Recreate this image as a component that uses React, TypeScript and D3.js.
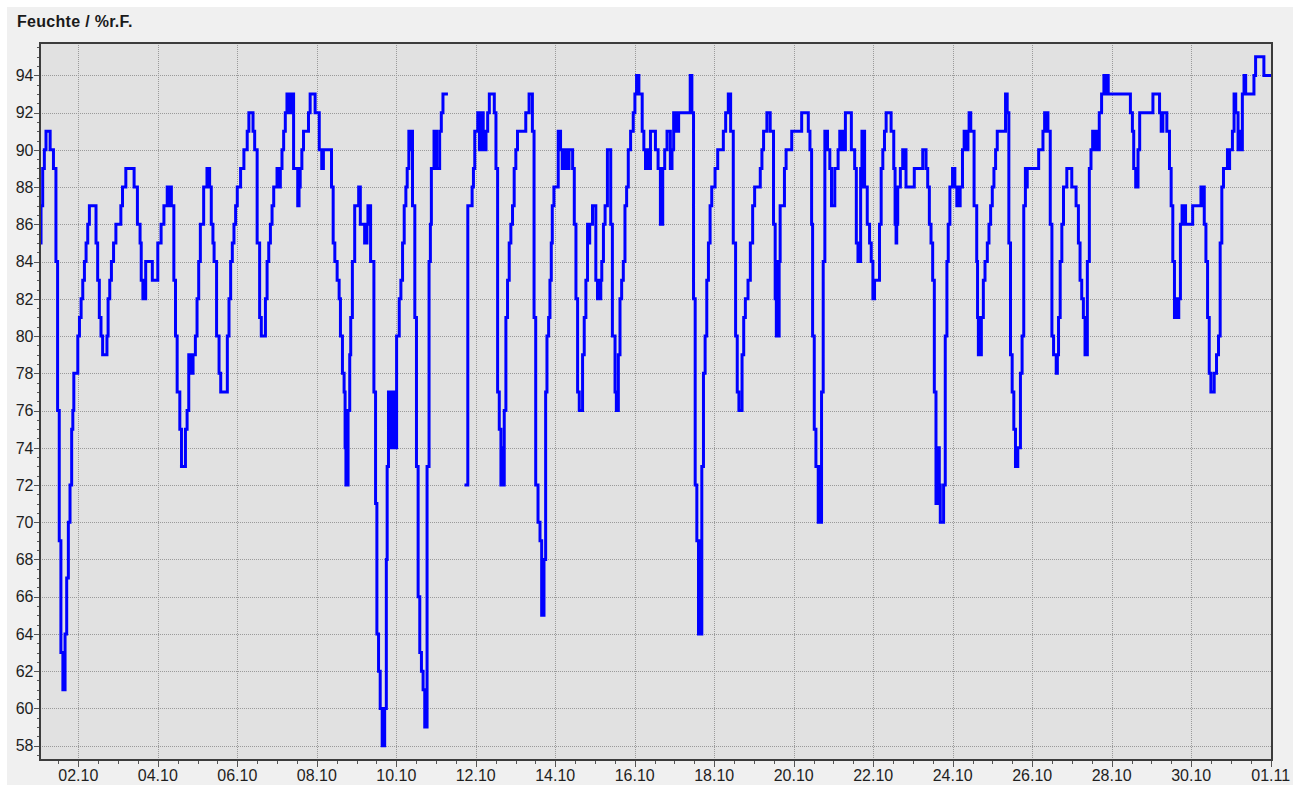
import React from "react";
import * as d3 from "d3";

// ---- data -------------------------------------------------------------
const chartTitle = "Feuchte / %r.F.";
const startUtc = Date.UTC(2012, 9, 1, 0, 0); // 01.10 00:00
const domainStartHour = 0.876;
const domainEndHour = 744.8;
const yDomain: [number, number] = [57.23, 95.74];
const yMajorTicks = d3.range(58, 95, 2);
const xTickDays = [1, 3, 5, 7, 9, 11, 13, 15, 17, 19, 21, 23, 25, 27, 29, 31]; // days after 01.10

// [hours since 01.10 00:00, relative humidity %] ; null = no data
const rhReadings: [number, number | null][] = [
  [0.9, 85], [1.5, 87], [2.5, 89], [3.5, 90], [4.5, 91], [7, 90], [9, 89], [10.5, 84], [11.5, 76], [12.5, 69],
  [13.5, 63], [14.7, 61], [16, 64], [17, 67], [18, 70], [19, 72], [20, 75], [20.7, 76], [21.3, 78], [23.7, 80],
  [24.7, 81], [25.7, 82], [26.7, 83], [27.7, 84], [28.7, 85], [29.7, 86], [30.7, 87], [34.7, 85], [35.7, 83],
  [36.7, 81], [37.7, 80], [38.7, 79], [41.3, 80], [42, 82], [43, 83], [44, 84], [45.3, 85], [46.7, 86], [49.7, 87],
  [50.7, 88], [52.7, 89], [57.7, 88], [59.7, 86], [61.3, 85], [62, 83], [63, 82], [63.5, 83], [64, 82], [64.7, 84],
  [68.7, 83], [72, 85], [74, 86], [75.7, 87], [77.7, 88], [79.2, 87], [79.6, 88], [80.2, 87], [81.7, 83], [82.7, 80],
  [83.7, 77], [85.3, 75], [86.3, 73], [88.7, 75], [89.7, 76], [90.7, 79], [91.5, 78], [92, 79], [92.8, 78], [93.3, 79],
  [94.7, 80], [95.7, 82], [96.7, 84], [97.7, 86], [99.7, 88], [101.7, 89], [103.3, 88], [104.3, 86], [105.3, 85],
  [106, 84], [107.5, 80], [109, 78], [110, 77], [114, 80], [115, 82], [116, 84], [117, 85], [118, 86], [119, 87],
  [120, 88], [122, 89], [124, 90], [126, 91], [127, 92], [129.5, 91], [130.5, 90], [132, 85], [133.5, 81], [134.5, 80],
  [137, 82], [138, 84], [139, 85], [140, 86], [141, 87], [142, 88], [144, 89], [144.5, 88], [145, 89], [145.5, 88],
  [146, 89], [147, 90], [148, 91], [149, 92], [150, 93], [151, 92], [151.5, 93], [152.5, 92], [153, 93], [154, 89],
  [156.5, 87], [157.3, 88], [158, 89], [159, 90], [160, 91], [163, 92], [164, 93], [167, 92], [169.5, 90], [171, 89],
  [172, 90], [176.9, 88], [177.9, 85], [178.9, 84], [180.3, 83], [181.5, 82], [182.3, 80], [183.5, 78], [184.5, 77],
  [185.1, 74], [185.6, 72], [186, 74], [186.4, 72], [186.9, 76], [187.9, 79], [188.5, 81], [189.5, 84], [190.9, 87],
  [193.3, 88], [194.3, 86], [196.9, 85], [198.3, 86], [198.9, 87], [200.5, 84], [202.5, 77], [203.5, 71], [204.3, 64],
  [205.3, 62], [206.3, 60], [207.5, 58], [209, 60], [210, 68], [210.5, 73], [211.3, 77], [212.5, 74], [213.2, 77],
  [214, 74], [215, 77], [215.5, 74], [216.2, 80], [217.8, 82], [218.8, 83], [219.8, 85], [220.8, 87], [221.8, 88],
  [222.6, 89], [223.6, 91], [224.4, 90], [224.8, 91], [225.8, 87], [227.2, 81], [228.2, 73], [229.2, 66], [230.2, 63],
  [231.2, 62], [232.2, 61], [233.2, 59], [234.6, 73], [235.8, 84], [236.6, 86], [237.2, 89], [238.8, 91], [239.3, 89],
  [239.8, 91], [240.3, 89], [242.2, 91], [243.2, 92], [244.2, 93], [247.2, 93], [250, null],
  [257.2, 72], [259.2, 87], [261.8, 88], [262.6, 89], [263.4, 91], [265.2, 92], [266.2, 90], [267.5, 91], [268, 92],
  [268.5, 90], [270.2, 91], [271.2, 92], [272.2, 93], [275.2, 92], [276.2, 89], [277.2, 77], [278.2, 75], [279.2, 72],
  [280, 74], [280.5, 72], [281.2, 76], [282.2, 81], [283.2, 83], [284.2, 85], [285.2, 86], [286.2, 87], [287.2, 89],
  [288.2, 90], [289.2, 91], [294.2, 92], [296.2, 93], [298.2, 91], [299.2, 81], [300.2, 72], [301.6, 70], [302.8, 69],
  [303.8, 65], [305.2, 68], [306.2, 77], [307, 80], [308, 81], [308.8, 83], [309.6, 85], [310.2, 87], [311.2, 88],
  [313.8, 91], [315.2, 90], [316.2, 89], [317.2, 90], [318.6, 89], [319.2, 90], [319.6, 89], [320.3, 90], [322.5, 89],
  [323.5, 86], [324.5, 82], [325.5, 77], [326.5, 76], [328.5, 79], [329.5, 81], [330.5, 83], [331.5, 86], [332, 85],
  [332.8, 86], [334.5, 87], [336.5, 83], [337.5, 82], [338.3, 83], [338.8, 82], [339.5, 83], [340.1, 84], [341.1, 86],
  [342.1, 87], [343.5, 90], [345.5, 86], [346.5, 80], [348.1, 77], [348.9, 76], [350.1, 79], [351.1, 82], [352.1, 83],
  [353.1, 84], [354.1, 87], [355.1, 88], [356.1, 90], [357.5, 91], [359.1, 92], [360.1, 93], [361.1, 94], [362.5, 93],
  [364.5, 91], [365.5, 90], [366.5, 89], [367.3, 90], [367.8, 89], [369.5, 91], [372.5, 90], [374.1, 89], [375.5, 86],
  [376.9, 89], [378.1, 90], [379.5, 91], [381.5, 89], [382.5, 90], [383.5, 92], [384.3, 91], [385, 92], [385.7, 91],
  [386.5, 92], [393.5, 94], [394.5, 92], [395.5, 82], [396.5, 72], [397.5, 69], [398.5, 64], [399.3, 69], [399.7, 64],
  [400.5, 73], [401.5, 78], [402.5, 80], [403.5, 83], [404.5, 85], [405.5, 87], [406.5, 88], [408.5, 89], [410.1, 90],
  [413.5, 91], [414.9, 92], [416.5, 93], [417.9, 91], [419.5, 85], [420.9, 80], [421.9, 77], [422.9, 76], [424.8, 79],
  [425.8, 81], [426.8, 82], [428.4, 83], [429.8, 85], [431.2, 87], [432.4, 88], [435.8, 89], [436.8, 90], [437.8, 91],
  [439.8, 92], [441.8, 91], [443.8, 86], [444.8, 82], [445.5, 80], [446, 84], [446.5, 80], [447.2, 84], [447.8, 87],
  [450.4, 89], [451.4, 90], [454.8, 91], [460.8, 92], [464.8, 91], [465.8, 90], [466.8, 86], [467.4, 80], [468.4, 75],
  [469.4, 73], [470.8, 70], [471.5, 73], [472, 70], [472.8, 77], [473.8, 84], [474.8, 91], [475.3, 90], [475.8, 91],
  [476.4, 90], [477.8, 89], [478.8, 87], [480.8, 89], [482.8, 90], [483.8, 91], [484.5, 90], [485, 91], [485.8, 90],
  [487.2, 92], [490.8, 90], [492.8, 89], [493.8, 85], [494.8, 84], [496.4, 89], [497.2, 91], [497.8, 88], [498.2, 91],
  [498.8, 88], [500.4, 86], [501.8, 85], [502.8, 84], [503.8, 82], [504.8, 83], [507.8, 86], [508.8, 89], [509.8, 90],
  [510.8, 91], [511.8, 92], [514.8, 91], [516.4, 89], [517.2, 86], [517.8, 85], [518.2, 86], [518.8, 88], [520.4, 89],
  [521.8, 90], [522.5, 89], [523, 90], [523.8, 88], [528.8, 89], [533.9, 90], [535.9, 89], [536.9, 88], [537.9, 86],
  [538.9, 85], [539.9, 83], [540.9, 77], [541.9, 71], [543.3, 74], [543.9, 72], [544.5, 70], [546.5, 72], [547.5, 80],
  [548.5, 84], [549.3, 86], [550.3, 88], [551.9, 89], [553.3, 88], [554.5, 87], [555.5, 88], [556, 87], [556.5, 88],
  [557.9, 90], [558.9, 91], [560.5, 90], [561.2, 91], [561.9, 92], [562.9, 91], [564.9, 87], [566.5, 84], [567, 81],
  [567.5, 79], [568.2, 81], [568.7, 79], [569.3, 81], [570.5, 83], [571.5, 84], [572.9, 85], [573.9, 86], [574.9, 87],
  [575.9, 88], [576.9, 89], [577.9, 90], [578.9, 91], [583.9, 93], [584.9, 92], [585.9, 85], [586.9, 79], [587.9, 77],
  [588.9, 75], [589.9, 73], [591.3, 74], [592.9, 78], [593.9, 80], [594.9, 87], [595.9, 89], [596.5, 88], [597, 89],
  [603.9, 90], [606.5, 91], [607.5, 92], [608.3, 91], [608.8, 92], [609.5, 91], [610.9, 86], [611.9, 80], [612.9, 79],
  [614.5, 78], [615.2, 79], [615.9, 81], [616.9, 84], [617.9, 86], [618.9, 88], [620.9, 89], [623.9, 88], [626.5, 87],
  [627.9, 85], [628.9, 83], [629.9, 82], [630.9, 81], [631.9, 79], [633.3, 84], [634.5, 89], [635.5, 90], [636.5, 91],
  [637.5, 90], [638.5, 91], [639.5, 90], [640.5, 92], [641.9, 93], [643.3, 94], [643.8, 93], [644.5, 94], [645.9, 93],
  [659.3, 92], [660.5, 91], [661.3, 89], [662.5, 88], [663.9, 90], [664.9, 92], [672.9, 93], [676.9, 92], [677.9, 91],
  [678.9, 92], [681.3, 91], [682.9, 89], [683.9, 87], [684.9, 84], [685.9, 81], [686.8, 82], [687.3, 81], [688.5, 82],
  [689.5, 86], [690.5, 87], [691.3, 86], [692, 87], [692.6, 86], [696.9, 87], [701.9, 88], [702.5, 87], [703, 88],
  [703.9, 86], [704.9, 84], [705.9, 81], [706.9, 78], [707.9, 77], [709.9, 78], [711.3, 79], [712.5, 80], [713.5, 85],
  [714.5, 88], [715.5, 89], [717.9, 90], [718.6, 89], [719.2, 90], [720.9, 91], [721.9, 93], [722.9, 92], [724.3, 90],
  [725.3, 91], [726, 90], [726.9, 93], [727.9, 94], [728.9, 93], [733.9, 94], [734.9, 95], [739.9, 94], [745.5, 94],
];

// ---- component --------------------------------------------------------
const hourToDate = (h: number) => new Date(startUtc + h * 3600 * 1000);
const FONT = "'Liberation Sans', Arial, sans-serif";

export default function App() {
  const W = 1306;
  const H = 785;
  const left = 40, right = 1272, top = 43, bottom = 760;

  const x = d3.scaleUtc().domain([hourToDate(domainStartHour), hourToDate(domainEndHour)]).range([left, right]);
  const y = d3.scaleLinear().domain(yDomain).range([bottom, top]);

  const line = d3
    .line<[number, number | null]>()
    .defined((d) => d[1] != null)
    .x((d) => x(hourToDate(d[0])))
    .y((d) => y(d[1] as number))
    .curve(d3.curveStepAfter);

  const xMajor = xTickDays.map((d) => hourToDate(d * 24));
  const xMinor = d3.utcHour.every(12)!.range(hourToDate(domainStartHour), hourToDate(domainEndHour));
  const yMinor = d3.range(57.5, 95.6, 0.5);
  const fmt = d3.utcFormat("%d.%m");

  return (
    <svg width={W} height={H} style={{ position: "absolute", left: 0, top: 0, display: "block" }}>
      <defs>
        <clipPath id="plotClip">
          <rect x={left} y={top} width={right - left} height={bottom - top} />
        </clipPath>
      </defs>
      <rect x={0} y={0} width={W} height={H} fill="#ffffff" />
      <rect x={7} y={7} width={1286} height={H - 7} fill="#f0f0f0" />
      <text x={17} y={26.5} fontFamily={FONT} fontWeight="bold" fontSize={16} letterSpacing={0.3} fill="#1a1a1a">
        {chartTitle}
      </text>
      <rect x={left} y={top} width={right - left} height={bottom - top} fill="#e1e1e1" />
      {/* grid */}
      <g stroke="#9a9a9a" strokeWidth={1} strokeDasharray="1 1">
        {yMajorTicks.map((v) => (
          <line key={"gy" + v} x1={left} x2={right} y1={Math.round(y(v)) + 0.5} y2={Math.round(y(v)) + 0.5} />
        ))}
        {xMajor.map((d, i) => (
          <line key={"gx" + i} x1={Math.round(x(d)) + 0.5} x2={Math.round(x(d)) + 0.5} y1={top} y2={bottom} />
        ))}
      </g>
      {/* data line */}
      <path
        d={line(rhReadings) || ""}
        fill="none"
        stroke="#0000ff"
        strokeWidth={3}
        strokeLinejoin="miter"
        clipPath="url(#plotClip)"
      />
      {/* ticks */}
      <g stroke="#555" strokeWidth={1}>
        {yMinor.map((v) => (
          <line key={"ym" + v} x1={left - 3} x2={left} y1={Math.round(y(v)) + 0.5} y2={Math.round(y(v)) + 0.5} />
        ))}
        {yMajorTicks.map((v) => (
          <line key={"yt" + v} x1={left - 6} x2={left} y1={Math.round(y(v)) + 0.5} y2={Math.round(y(v)) + 0.5} />
        ))}
        {xMinor.map((d, i) => (
          <line key={"xm" + i} x1={Math.round(x(d)) + 0.5} x2={Math.round(x(d)) + 0.5} y1={bottom} y2={bottom + 4} />
        ))}
        {xMajor.map((d, i) => (
          <line key={"xt" + i} x1={Math.round(x(d)) + 0.5} x2={Math.round(x(d)) + 0.5} y1={bottom} y2={bottom + 7} />
        ))}
      </g>
      {/* frame */}
      <rect x={left} y={top} width={right - left} height={bottom - top} fill="none" stroke="#3c3c3c" strokeWidth={2} />
      {/* labels */}
      <g fontFamily={FONT} fontSize={16} fill="#1e1e1e">
        {yMajorTicks.map((v) => (
          <text key={"yl" + v} x={33.5} y={y(v)} dy="0.36em" textAnchor="end">
            {v}
          </text>
        ))}
        {xMajor.map((d, i) => (
          <text key={"xl" + i} x={x(d)} y={781} textAnchor="middle">
            {fmt(d)}
          </text>
        ))}
      </g>
    </svg>
  );
}
